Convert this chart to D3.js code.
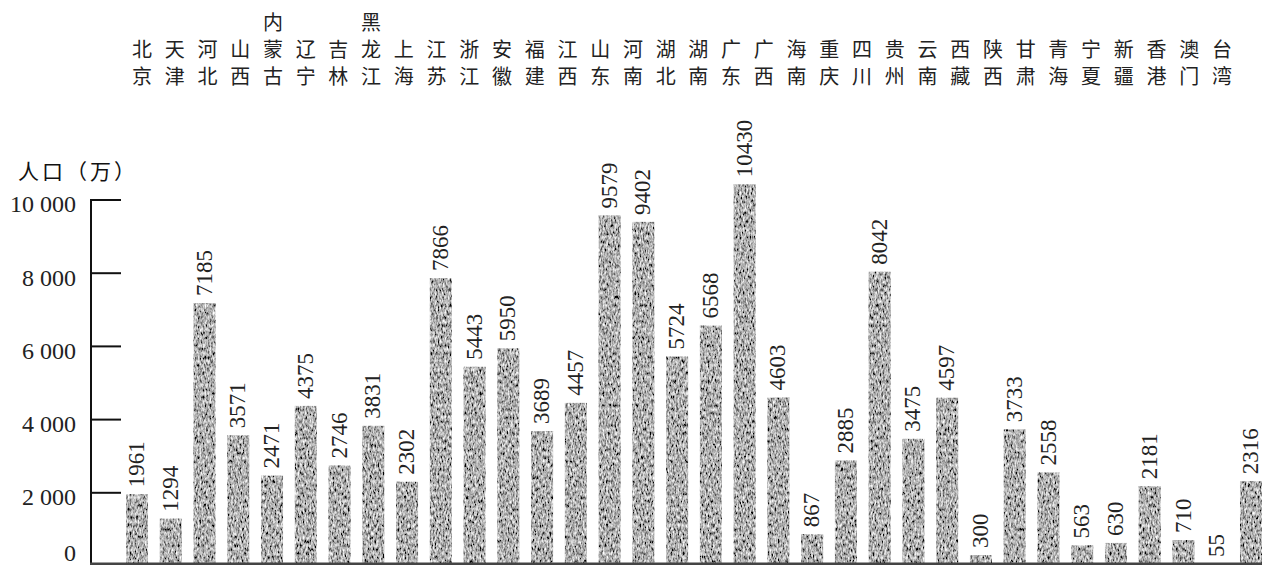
<!DOCTYPE html>
<html><head><meta charset="utf-8">
<script src="https://cdn.jsdelivr.net/npm/d3@7"></script>
<style>html,body{margin:0;padding:0;background:#fff;overflow:hidden}
.num{font-family:"Liberation Serif","Times New Roman","DejaVu Serif",serif;}
.cjk{font-family:"Noto Sans CJK SC","Noto Sans CJK JP",sans-serif;}
</style>
</head><body>
<svg id="c" width="1262" height="565"></svg>
<script>
const provinces = ["北京","天津","河北","山西","内蒙古","辽宁","吉林","黑龙江","上海","江苏","浙江","安徽","福建","江西","山东","河南","湖北","湖南","广东","广西","海南","重庆","四川","贵州","云南","西藏","陕西","甘肃","青海","宁夏","新疆","香港","澳门","台湾"];
const population = [1961,1294,7185,3571,2471,4375,2746,3831,2302,7866,5443,5950,3689,4457,9579,9402,5724,6568,10430,4603,867,2885,8042,3475,4597,300,3733,2558,563,630,2181,710,55,2316];
const yTicks = [0,2000,4000,6000,8000,10000];
const yTitle = "人口（万）";

const svg = d3.select("#c");
const defs = svg.append("defs");
const f = defs.append("filter").attr("id","grain").attr("x",0).attr("y",0).attr("width","100%").attr("height","100%").attr("filterUnits","objectBoundingBox");
f.append("feTurbulence").attr("type","fractalNoise").attr("baseFrequency","0.6 0.25").attr("numOctaves",3).attr("seed",7).attr("result","n");
f.append("feColorMatrix").attr("in","n").attr("type","matrix")
 .attr("values","1.7 0 0 0 -0.42  1.7 0 0 0 -0.42  1.7 0 0 0 -0.42  0 0 0 0 1").attr("result","g");
f.append("feComposite").attr("in","g").attr("in2","SourceGraphic").attr("operator","in");

const x = d3.scaleBand().domain(provinces).range([126,1262]).paddingInner(0.348).paddingOuter(0);
const xl = d3.scalePoint().domain(provinces).range([142,1222]);
const y = d3.scaleLinear().domain([0,10000]).range([566,200]);

// bars
svg.append("g").selectAll("rect").data(provinces).join("rect")
  .attr("x",d=>x(d)).attr("width",x.bandwidth())
  .attr("y",(d,i)=>y(population[i])).attr("height",(d,i)=>y(0)-y(population[i]))
  .attr("fill","#666").attr("filter","url(#grain)");

// value labels
svg.append("g").selectAll("text").data(provinces).join("text")
  .attr("class","num")
  .attr("transform",(d,i)=>`translate(${x(d)+x.bandwidth()/2-1},${y(population[i])-7}) rotate(-90)`)
  .attr("dy","0.35em").attr("text-anchor","start")
  .attr("font-size",23).attr("fill","#222")
  .text((d,i)=>population[i]);

// category labels (vertical text, one element per province)
svg.append("g").attr("class","cjk").attr("font-size",20).attr("fill","#222")
  .selectAll("text").data(provinces).join("text")
  .attr("x",d=>xl(d))
  .attr("y",d=>12 + (3-Array.from(d).length)*27)
  .attr("writing-mode","vertical-rl")
  .attr("text-anchor","start")
  .attr("letter-spacing",7)
  .text(d=>d);

// y axis
const ax = svg.append("g");
ax.append("line").attr("x1",91).attr("x2",91).attr("y1",y(10000)-1).attr("y2",y(0)).attr("stroke","#111").attr("stroke-width",2);
ax.selectAll("line.t").data(yTicks.filter(t=>t>0)).join("line").attr("class","t")
  .attr("x1",91).attr("x2",121).attr("y1",d=>y(d)).attr("y2",d=>y(d)).attr("stroke","#111").attr("stroke-width",2);
const fmt = d=> d>=1000 ? d3.format(",")(d).replace(/,/g," ") : String(d);
ax.selectAll("text").data(yTicks).join("text").attr("class","num")
  .attr("x",76).attr("y",d=>Math.min(y(d)+4,553)).attr("dy","0.35em").attr("text-anchor","end")
  .attr("font-size",24).attr("fill","#222")
  .text(fmt);
// baseline
svg.append("line").attr("x1",90).attr("x2",1262).attr("y1",564).attr("y2",564).attr("stroke","#444").attr("stroke-width",3);
// title
svg.append("text").attr("class","cjk").attr("x",18).attr("y",171).attr("dy","0.36em")
  .attr("font-size",21).attr("letter-spacing",3).attr("fill","#111")
  .text(yTitle);
</script>
</body></html>
